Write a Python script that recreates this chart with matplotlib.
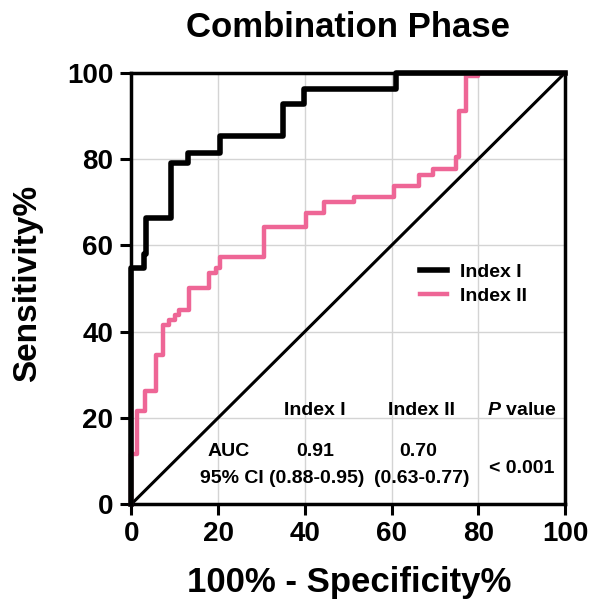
import matplotlib
matplotlib.use('Agg')
import matplotlib.pyplot as plt

plt.rcParams['font.family'] = ['Liberation Sans', 'DejaVu Sans']
plt.rcParams['font.weight'] = 'bold'
plt.rcParams['mathtext.fontset'] = 'custom'
plt.rcParams['mathtext.it'] = 'Liberation Sans:italic:bold'
plt.rcParams['mathtext.rm'] = 'Liberation Sans:bold'

# ROC 折点 (100% - specificity, sensitivity)
fpr_1 = [0, 0, 2.8, 3.4, 9.0, 13.0, 20.5, 35.0, 39.7, 61.0, 100]
tpr_1 = [0, 54.7, 58.0, 66.3, 79.0, 81.5, 85.4, 92.8, 96.3, 100, 100]

fpr_2 = [0, 0, 1.3, 3.2, 5.7, 7.2, 8.6, 10.0, 10.9, 13.2, 17.8, 19.4, 20.5,
         30.5, 40.2, 44.4, 51.3, 60.5, 66.3, 69.5, 74.8, 75.5, 77.1, 80.0, 100]
tpr_2 = [0, 11.5, 21.5, 26.2, 34.6, 41.6, 42.7, 43.9, 45.0, 50.0, 53.6, 54.7, 57.3,
         64.3, 67.4, 70.0, 71.2, 73.7, 76.2, 77.6, 80.4, 91.2, 99.3, 100, 100]

labels = ['Index I', 'Index II']
auc = ['0.91', '0.70']
ci = ['(0.88-0.95)', '(0.63-0.77)']
p_value = '< 0.001'
ticks = [0, 20, 40, 60, 80, 100]

pink = '#EE6696'

fig = plt.figure(figsize=(5.91, 6.07), dpi=100)
ax = fig.add_axes([0.2225, 0.1697, 0.7335, 0.7103])

ax.plot([0, 100], [0, 100], color='black', linewidth=2.2, zorder=2)
ax.plot(fpr_2, tpr_2, drawstyle='steps-post', color=pink, linewidth=3.2,
        label=labels[1], clip_on=False, zorder=3)
ax.plot(fpr_1, tpr_1, drawstyle='steps-post', color='black', linewidth=4.0,
        label=labels[0], clip_on=False, zorder=4)

ax.set_xlim(0, 100)
ax.set_ylim(0, 100)
ax.set_xticks(ticks)
ax.set_yticks(ticks)
ax.grid(True, color='#d4d4d4', linewidth=1.0, zorder=0)
ax.set_axisbelow(True)
for s in ax.spines.values():
    s.set_linewidth(2.5)
ax.tick_params(axis='both', direction='out', length=8, width=2.2, labelsize=20)
ax.tick_params(axis='y', pad=5)
ax.tick_params(axis='x', pad=4)

# 图例
h, l = ax.get_legend_handles_labels()
ax.legend([h[1], h[0]], [l[1], l[0]], loc='center left', bbox_to_anchor=(0.6655, 0.51),
          frameon=False, fontsize=14, handlelength=1.4, handletextpad=0.65,
          borderpad=0, borderaxespad=0, labelspacing=0.35)

# 表格文字
tk = dict(fontsize=14, fontweight='bold', ha='center', va='center')
ax.text(42.3, 21.6, labels[0], **tk)
ax.text(67.0, 21.6, labels[1], **tk)
ax.text(90.1, 21.6, r'$P$ value', **tk)
ax.text(22.3, 12.2, 'AUC', **tk)
ax.text(42.3, 12.2, auc[0], **tk)
ax.text(66.1, 12.2, auc[1], **tk)
ax.text(23.2, 6.0, '95% CI', **tk)
ax.text(42.8, 6.0, ci[0], **tk)
ax.text(67.0, 6.0, ci[1], **tk)
ax.text(90.1, 8.3, p_value, **tk)

fig.text(0.589, 0.955, 'Combination Phase', fontsize=25, fontweight='bold',
         ha='center', va='center')
fig.text(0.5905, 0.04, '100% - Specificity%', fontsize=25, fontweight='bold',
         ha='center', va='center')
fig.text(0.0465, 0.533, 'Sensitivity%', fontsize=24, fontweight='bold',
         rotation=90, ha='center', va='center')

fig.savefig('out.png', dpi=100)
